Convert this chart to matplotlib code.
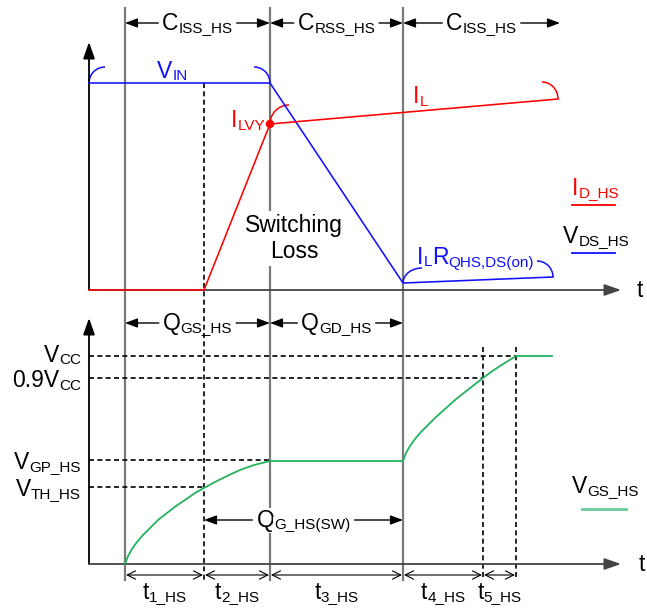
import matplotlib
matplotlib.use("Agg")
import matplotlib.pyplot as plt
from matplotlib.patches import Arc, Circle

plt.rcParams["font.family"] = ["Liberation Sans", "DejaVu Sans"]

# ---- data (diagram units = pixels of the 647x610 picture) ----
t_marks = [125, 204, 270, 403, 483, 516]          # switching instants
solid_marks = [125, 270, 403]
dashed_marks = [204, 483, 516]
t_labels = ["1_HS", "2_HS", "3_HS", "4_HS", "5_HS"]

# top panel waveforms
vds_x = [89, 270, 403, 553]
vds_y = [83, 83, 283, 277]
id_x = [89, 204, 270, 558]
id_y = [290, 290, 124, 99]

# bottom panel gate voltage
vgs_x = [125, 128, 132, 137, 143, 150, 158, 167, 176, 185, 195, 204, 215, 227, 240, 254, 270,
         403, 406, 410, 415, 421, 428, 436, 445, 455, 465, 474, 483, 491, 500, 508, 516, 552]
vgs_y = [564, 556, 549, 542, 535, 528, 520, 513, 506, 500, 493, 488, 482, 476, 470, 465, 461,
         461, 453, 446, 439, 432, 425, 417, 409, 400, 392, 385, 378, 372, 366, 361, 356, 356]

level_main = ["V", "0.9V", "V", "V"]
level_sub = ["CC", "CC", "GP_HS", "TH_HS"]
level_y = [356, 378, 460, 487]
level_xend = [516, 483, 270, 204]
level_dy = [6, 9, 9, 9]

cap_spans = [(125, 270), (270, 403), (403, 560)]
cap_main = ["C", "C", "C"]
cap_sub = ["ISS_HS", "RSS_HS", "ISS_HS"]
q_spans = [(125, 270), (270, 403)]
q_sub = ["GS_HS", "GD_HS"]

RED = "#ff0000"
BLUE = "#1010ff"
GREEN = "#22b35e"
GREY = "#7a7a7a"
MAIN, SUB = 16.5, 11

fig = plt.figure(figsize=(6.47, 6.10), dpi=100)
ax = fig.add_axes([0, 0, 1, 1])
ax.set_xlim(0, 647)
ax.set_ylim(610, 0)
ax.axis("off")
renderer = fig.canvas.get_renderer()


def rich(x, y, parts, color="black", ha="left", bg=False):
    """parts: list of (text, is_subscript); returns left/right extents."""
    arts = []
    for s, sub in parts:
        t = ax.text(0, 0, s, fontsize=SUB if sub else MAIN, color=color,
                    va="baseline", ha="left", zorder=6)
        if bg:
            t.set_bbox(dict(fc="white", ec="none", pad=1))
        arts.append((t, sub))
    widths = [t.get_window_extent(renderer).width for t, _ in arts]
    total = sum(widths)
    x0 = x - {"left": 0, "center": total / 2, "right": total}[ha]
    left = x0
    for (t, sub), w in zip(arts, widths):
        t.set_position((x0, y + (2.5 if sub else 0)))
        x0 += w
    return left, x0


def arrow(x0, x1, y, style="-|>,head_length=0.75,head_width=0.28", lw=1.0):
    ax.annotate("", xy=(x1, y), xytext=(x0, y),
                arrowprops=dict(arrowstyle=style, color="black", lw=lw,
                                mutation_scale=10, shrinkA=0, shrinkB=0))


def span_label(a, b, y, parts, bg=False):
    l, r = rich((a + b) / 2, y + 7, parts, ha="center", bg=bg)
    arrow(l - 4, a, y)
    arrow(r + 4, b, y)


# axes with arrows
for y0, ytop in [(290, 42), (564, 318)]:
    ax.annotate("", xy=(89, ytop), xytext=(89, y0),
                arrowprops=dict(arrowstyle="-|>,head_length=1.0,head_width=0.35",
                                color="black", lw=1.3, mutation_scale=10,
                                shrinkA=0, shrinkB=0))
    ax.annotate("", xy=(621, y0), xytext=(89, y0),
                arrowprops=dict(arrowstyle="-|>,head_length=1.0,head_width=0.35",
                                color="#444444", lw=1.3, mutation_scale=10,
                                shrinkA=0, shrinkB=0))
ax.text(640, 297, "t", fontsize=MAIN, ha="center", va="baseline")
ax.text(642, 571, "t", fontsize=MAIN, ha="center", va="baseline")

# time marker lines
for x in solid_marks:
    ax.plot([x, x], [8, 580], color=GREY, lw=1.6, zorder=1)
ax.plot([dashed_marks[0]] * 2, [vds_y[0], 580], color="black", lw=1.2,
        ls=(0, (3, 2)), zorder=1)
for x in dashed_marks[1:]:
    ax.plot([x, x], [347, 580], color="black", lw=1.2, ls=(0, (3, 2)), zorder=1)

# level lines and labels
for m, s, y, xe, dy in zip(level_main, level_sub, level_y, level_xend, level_dy):
    ax.plot([89, xe], [y, y], color="black", lw=1.2, ls=(0, (3, 2)), zorder=1)
    rich(81, y + dy, [(m, False), (s, True)], ha="right")

# waveforms
ax.plot(vds_x, vds_y, color=BLUE, lw=1.15, zorder=3)
ax.plot(id_x, id_y, color=RED, lw=1.15, zorder=3)
ax.plot(vgs_x, vgs_y, color=GREEN, lw=1.3, zorder=3)
ax.add_patch(Circle((id_x[2], id_y[2]), 3.5, color=RED, zorder=4))

# brace arcs
ax.add_patch(Arc((vds_x[0] + 16, vds_y[0]), 32, 32, theta1=180, theta2=270, color=BLUE, lw=1.1))
ax.add_patch(Arc((vds_x[1] - 16, vds_y[1]), 32, 32, theta1=270, theta2=360, color=BLUE, lw=1.1))
ax.add_patch(Arc((vds_x[2] + 19, vds_y[2]), 38, 30, theta1=180, theta2=270, color=BLUE, lw=1.1))
ax.add_patch(Arc((vds_x[3] - 16, vds_y[3]), 32, 32, theta1=270, theta2=360, color=BLUE, lw=1.1))
ax.add_patch(Arc((id_x[2] + 19, id_y[2]), 38, 38, theta1=180, theta2=270, color=RED, lw=1.1))
ax.add_patch(Arc((id_x[3] - 16, id_y[3]), 32, 34, theta1=270, theta2=360, color=RED, lw=1.1))

# waveform labels
rich(157, 78, [("V", False), ("IN", True)], color=BLUE)
rich(265, 127, [("I", False), ("LVY", True)], color=RED, ha="right")
rich(413, 103, [("I", False), ("L", True)], color=RED)
rich(417, 264, [("I", False), ("L", True), ("R", False), ("QHS,DS(on)", True)], color=BLUE)
t = ax.text(294, 232, "Switching", fontsize=MAIN, ha="center", va="baseline", zorder=6)
t.set_bbox(dict(fc="white", ec="none", pad=2))
t = ax.text(294, 258, "Loss", fontsize=MAIN, ha="center", va="baseline", zorder=6)
t.set_bbox(dict(fc="white", ec="none", pad=2))

# legend
rich(572, 195, [("I", False), ("D_HS", True)], color=RED)
ax.plot([572, 615], [205, 205], color=RED, lw=1.3)
rich(563, 243, [("V", False), ("DS_HS", True)])
ax.plot([572, 615], [253, 253], color=BLUE, lw=1.3)
rich(572, 493, [("V", False), ("GS_HS", True)])
ax.plot([582, 626], [509, 509], color="#66cc99", lw=2)

# capacitance / charge spans
for (a, b), m, s in zip(cap_spans, cap_main, cap_sub):
    span_label(a, b, 23, [(m, False), (s, True)])
for (a, b), s in zip(q_spans, q_sub):
    span_label(a, b, 323, [("Q", False), (s, True)])
span_label(t_marks[1], t_marks[3], 520, [("Q", False), ("G_HS(SW)", True)], bg=True)

# time intervals
for a, b, lab in zip(t_marks[:-1], t_marks[1:], t_labels):
    ax.annotate("", xy=(b - 1, 575), xytext=(a + 1, 575),
                arrowprops=dict(arrowstyle="<->,head_length=0.6,head_width=0.3",
                                color="black", lw=0.8, mutation_scale=10,
                                shrinkA=0, shrinkB=0))
    rich((a + b) / 2, 599, [("t", False), (lab, True)], ha="center")

fig.savefig("out.png", dpi=100)
